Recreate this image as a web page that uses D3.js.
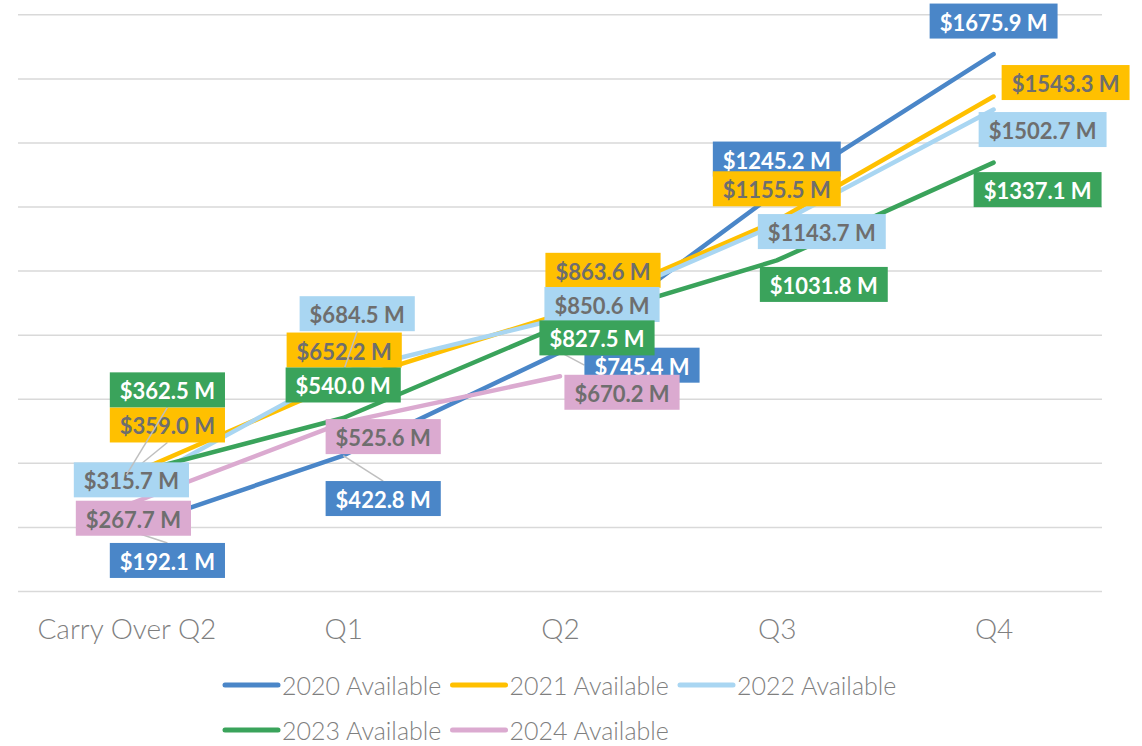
<!DOCTYPE html>
<html>
<head>
<meta charset="utf-8">
<script src="https://cdn.jsdelivr.net/npm/d3@7"></script>
<style>
  body { margin: 0; background: #fff; }
  svg { display: block; }
  .grid line { stroke: #d9d9d9; stroke-width: 1.5; }
  .grid .domain { display: none; }
  .xaxis text { font-family: Lato, sans-serif; font-weight: 300; font-size: 28px; fill: #7f7f7f; }
  .legend text { font-family: Lato, sans-serif; font-weight: 300; font-size: 25px; fill: #7f7f7f; }
  .lbl text { font-family: Lato, sans-serif; font-weight: 700; font-size: 22px; }
</style>
</head>
<body>
<script>
(function () {

    //chart data
    var categories = ["Carry Over Q2", "Q1", "Q2", "Q3", "Q4"];
    var seriesNames = ["2020 Available", "2021 Available", "2022 Available", "2023 Available", "2024 Available"];
    var values2020 = [192.1, 422.8, 745.4, 1245.2, 1675.9];
    var values2021 = [359.0, 652.2, 863.6, 1155.5, 1543.3];
    var values2022 = [315.7, 684.5, 850.6, 1143.7, 1502.7];
    var values2023 = [362.5, 540.0, 827.5, 1031.8, 1337.1];
    var values2024 = [267.7, 525.6, 670.2];
    var yTicks = [0, 200, 400, 600, 800, 1000, 1200, 1400, 1600, 1800];

    //styling per series
    var colors = ["#4a86c8", "#ffc000", "#a9d6f2", "#3aa35b", "#dbaad0"];
    var textColors = ["#ffffff", "#6e6e6e", "#6e6e6e", "#ffffff", "#6e6e6e"];

    //where each data label box was dragged to (centre offset from its point, px) and whether it has a leader
    var labelOffsets = [
        [[41, 31, 1], [40, 43, 1], [82, 13, 1], [0, -33, 0], [0, -33, 0]],
        [[41, -51, 1], [1, -32, 1], [43, -44, 0], [0, -32, 0], [72, -14, 0]],
        [[5, -10, 0], [14, -58, 1], [42, -14, 0], [45, 7, 0], [49, 20, 0]],
        [[41, -85, 1], [0, -33, 0], [37, 12, 0], [47, 24, 0], [44, 27, 0]],
        [[7, 13, 0], [40, 14, 0], [62, 16, 0]]
    ];

    var allValues = [values2020, values2021, values2022, values2023, values2024];

    var width = 1142, height = 746;
    var plotLeft = 18, plotRight = 1102, plotTop = 14.3, plotBottom = 591;

    var svg = d3.select("body")
        .append("svg")
        .attr("width", width)
        .attr("height", height);

    var x = d3.scalePoint()
        .domain(categories)
        .range([plotLeft, plotRight])
        .padding(0.5);

    var y = d3.scaleLinear()
        .domain([0, 1800])
        .range([plotBottom, plotTop]);

    //horizontal gridlines
    svg.append("g")
        .attr("class", "grid")
        .attr("transform", "translate(" + plotLeft + ",0)")
        .call(d3.axisLeft(y).tickValues(yTicks).tickSize(-(plotRight - plotLeft)).tickFormat(""));

    //category axis labels
    var xAxis = svg.append("g")
        .attr("class", "xaxis")
        .attr("transform", "translate(0," + plotBottom + ")")
        .call(d3.axisBottom(x).tickSize(0).tickPadding(0));
    xAxis.select(".domain").remove();
    xAxis.selectAll("text").attr("dy", null).attr("y", 48);

    //series lines
    var line = d3.line()
        .x(function (d, i) { return x(categories[i]); })
        .y(function (d) { return y(d); });

    svg.selectAll(".series")
        .data(allValues)
        .enter()
        .append("path")
        .attr("class", "series")
        .attr("d", line)
        .attr("fill", "none")
        .attr("stroke", function (d, i) { return colors[i]; })
        .attr("stroke-width", 4.5)
        .attr("stroke-linecap", "round")
        .attr("stroke-linejoin", "round");

    //data labels, series by series
    var fmt = d3.format(".1f");
    var boxH = 35, padX = 10;

    allValues.forEach(function (vals, s) {
        var g = svg.append("g").attr("class", "lbl");
        vals.forEach(function (v, i) {
            var px = x(categories[i]), py = y(v);
            var off = labelOffsets[s][i];
            var cx = px + off[0], cy = py + off[1];

            var grp = g.append("g");
            var leader = grp.append("line");
            var rect = grp.append("rect");
            var txt = grp.append("text")
                .attr("x", cx)
                .attr("y", cy + 1)
                .attr("text-anchor", "middle")
                .attr("dominant-baseline", "central")
                .attr("fill", textColors[s])
                .text("$" + fmt(v) + " M");

            var w = txt.node().getComputedTextLength() + padX * 2;
            var x0 = cx - w / 2, x1 = cx + w / 2, y0 = cy - boxH / 2, y1 = cy + boxH / 2;

            rect.attr("x", x0).attr("y", y0)
                .attr("width", w).attr("height", boxH)
                .attr("fill", colors[s]);

            if (off[2]) {
                var ex, ey;
                if (px < x0) { ex = x0; ey = cy; }
                else if (px > x1) { ex = x1; ey = cy; }
                else if (py > y1) { ex = cx; ey = y1; }
                else { ex = cx; ey = y0; }
                leader.attr("x1", px).attr("y1", py)
                    .attr("x2", ex).attr("y2", ey)
                    .attr("stroke", "#bfbfbf")
                    .attr("stroke-width", 1.5);
                //leader drawn on top of earlier boxes but under its own box
                grp.node().insertBefore(leader.node(), rect.node());
            } else {
                leader.remove();
            }
        });
    });

    //legend
    var legend = svg.append("g").attr("class", "legend");
    var colW = 227.5, legX = 225, rowY = [685, 730];

    seriesNames.forEach(function (name, i) {
        var col = i % 3, row = Math.floor(i / 3);
        var lx = legX + col * colW, ly = rowY[row];
        legend.append("line")
            .attr("x1", lx).attr("x2", lx + 53)
            .attr("y1", ly).attr("y2", ly)
            .attr("stroke", colors[i])
            .attr("stroke-width", 5)
            .attr("stroke-linecap", "round");
        legend.append("text")
            .attr("x", lx + 57)
            .attr("y", ly)
            .attr("dominant-baseline", "central")
            .text(name);
    });

})();
</script>
</body>
</html>
